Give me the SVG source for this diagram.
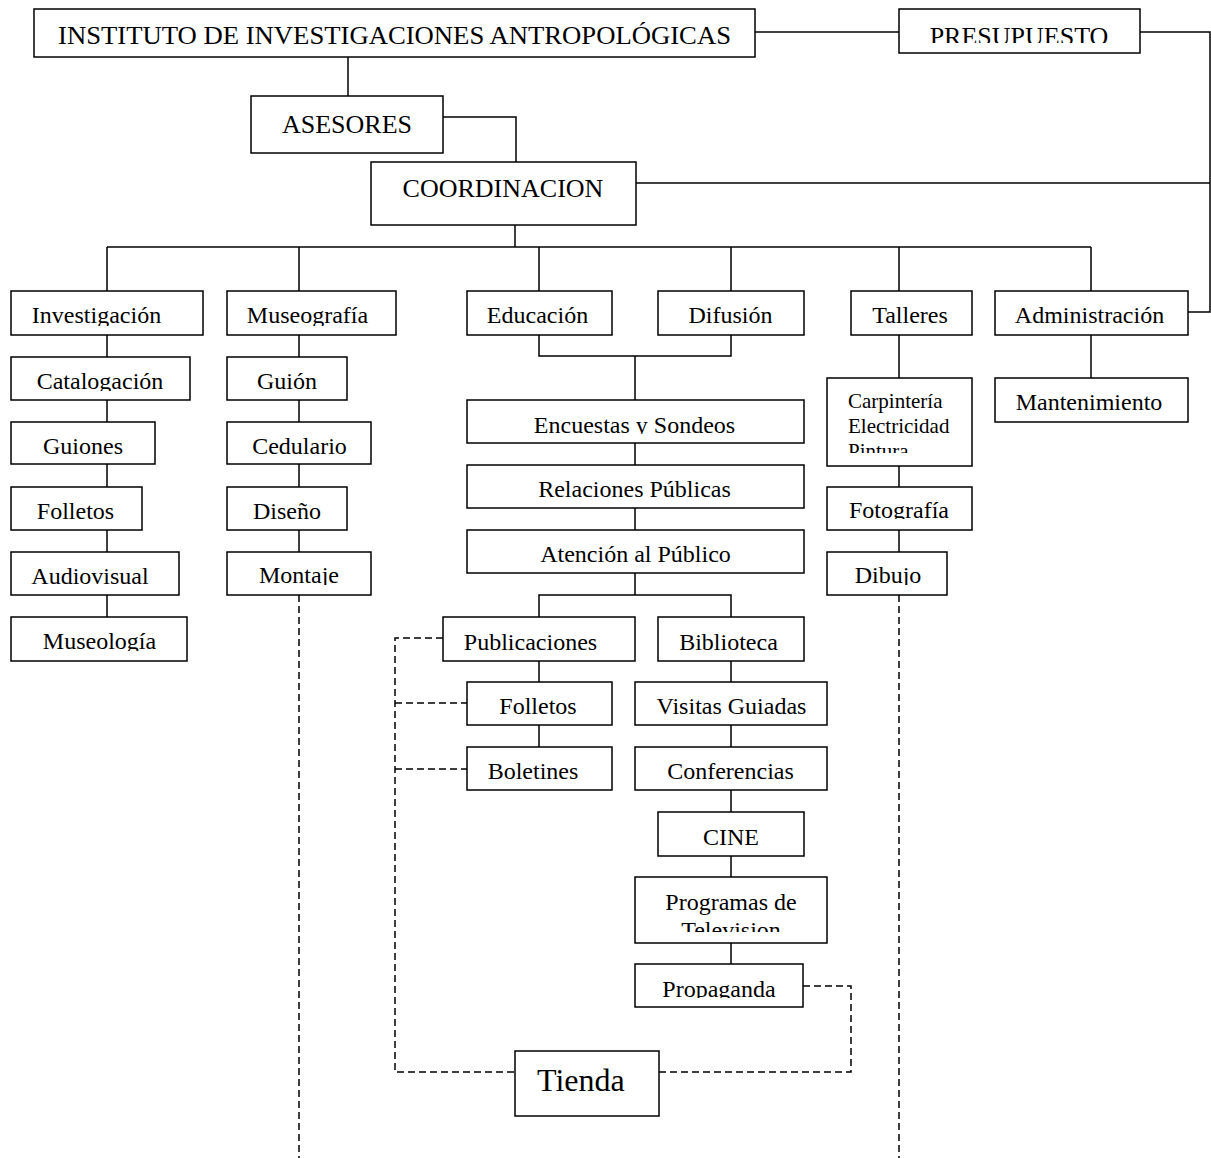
<svg xmlns="http://www.w3.org/2000/svg" width="1211" height="1158" viewBox="0 0 1211 1158">
  <style>
    .box { fill: #fff; stroke: #000; stroke-width: 1.5; }
    .lbl { font-family: "Liberation Serif", "Times New Roman", serif; font-size: 24px; fill: #000; text-anchor: middle; }
    .big { font-size: 26px; }
    .small { font-size: 21px; text-anchor: start; }
    .shop { font-size: 32px; text-anchor: start; }
    .wire { fill: none; stroke: #000; stroke-width: 1.5; }
    .dash { fill: none; stroke: #000; stroke-width: 1.5; stroke-dasharray: 7 4; }
  </style>
  <rect width="1211" height="1158" fill="#fff"/>

  <!-- connectors -->
  <g id="connectors">
    <path class="wire" d="M348 57V96"/>
    <path class="wire" d="M443 117H516V162"/>
    <path class="wire" d="M755 32H899"/>
    <path class="wire" d="M1140 32H1210V312H1188"/>
    <path class="wire" d="M636 183H1210"/>
    <path class="wire" d="M515 225V247"/>
    <path class="wire" d="M107 247H1091"/>
    <path class="wire" d="M107 247V291M299 247V291M539 247V291M731 247V291M899 247V291M1091 247V291"/>
    <!-- Investigación column -->
    <path class="wire" d="M107 335V357M107 400V422M107 464V487M107 530V552M107 595V617"/>
    <!-- Museografía column -->
    <path class="wire" d="M299 335V357M299 400V422M299 464V487M299 530V552"/>
    <!-- Educación / Difusión -->
    <path class="wire" d="M539 335V356H731V335M635 356V400"/>
    <path class="wire" d="M635 443V465M635 508V530M635 573V595"/>
    <path class="wire" d="M539 617V595H731V617"/>
    <path class="wire" d="M539 661V682M539 725V747"/>
    <path class="wire" d="M731 661V682M731 725V747M731 790V812M731 856V877M731 943V964"/>
    <!-- Talleres / Administración -->
    <path class="wire" d="M899 335V378M899 466V487M899 530V552"/>
    <path class="wire" d="M1091 335V378"/>
    <!-- dashed links -->
    <path class="dash" d="M299 595V1158"/>
    <path class="dash" d="M899 595V1158"/>
    <path class="dash" d="M443 638H395V1072H515"/>
    <path class="dash" d="M395 703H467M395 769H467"/>
    <path class="dash" d="M803 986H851V1072H659"/>
  </g>

  <!-- top level -->
  <g id="n-instituto">
    <rect class="box" x="34" y="9" width="721" height="48"/>
    <svg x="34" y="9" width="721" height="48" viewBox="34 9 721 48">
      <text class="lbl big" x="394.5" y="44" textLength="673" lengthAdjust="spacingAndGlyphs">INSTITUTO DE INVESTIGACIONES ANTROPOLÓGICAS</text>
    </svg>
  </g>
  <g id="n-presupuesto">
    <rect class="box" x="899" y="9" width="241" height="44"/>
    <svg x="899" y="9" width="241" height="34" viewBox="899 9 241 34">
      <text class="lbl big" x="1019" y="45">PRESUPUESTO</text>
    </svg>
  </g>
  <g id="n-asesores">
    <rect class="box" x="251" y="96" width="192" height="57"/>
    <text class="lbl big" x="347" y="133">ASESORES</text>
  </g>
  <g id="n-coordinacion">
    <rect class="box" x="371" y="162" width="265" height="63"/>
    <text class="lbl big" x="503" y="197">COORDINACION</text>
  </g>

  <!-- Investigación column -->
  <g id="n-investigacion">
    <rect class="box" x="11" y="291" width="192" height="44"/>
    <svg x="11" y="291" width="192" height="35" viewBox="11 291 192 35"><text class="lbl" x="96.5" y="323">Investigación</text></svg>
  </g>
  <g id="n-catalogacion">
    <rect class="box" x="11" y="357" width="179" height="43"/>
    <svg x="11" y="357" width="179" height="34" viewBox="11 357 179 34"><text class="lbl" x="100" y="389">Catalogación</text></svg>
  </g>
  <g id="n-guiones">
    <rect class="box" x="11" y="422" width="144" height="42"/>
    <text class="lbl" x="83" y="454">Guiones</text>
  </g>
  <g id="n-folletos-inv">
    <rect class="box" x="11" y="487" width="131" height="43"/>
    <text class="lbl" x="75.5" y="519">Folletos</text>
  </g>
  <g id="n-audiovisual">
    <rect class="box" x="11" y="552" width="168" height="43"/>
    <text class="lbl" x="90" y="584">Audiovisual</text>
  </g>
  <g id="n-museologia">
    <rect class="box" x="11" y="617" width="176" height="44"/>
    <svg x="11" y="617" width="176" height="34" viewBox="11 617 176 34"><text class="lbl" x="99.5" y="649">Museología</text></svg>
  </g>

  <!-- Museografía column -->
  <g id="n-museografia">
    <rect class="box" x="227" y="291" width="169" height="44"/>
    <svg x="227" y="291" width="169" height="35" viewBox="227 291 169 35"><text class="lbl" x="307.5" y="323">Museografía</text></svg>
  </g>
  <g id="n-guion">
    <rect class="box" x="227" y="357" width="120" height="43"/>
    <text class="lbl" x="287" y="389">Guión</text>
  </g>
  <g id="n-cedulario">
    <rect class="box" x="227" y="422" width="144" height="42"/>
    <text class="lbl" x="299.5" y="454">Cedulario</text>
  </g>
  <g id="n-diseno">
    <rect class="box" x="227" y="487" width="120" height="43"/>
    <text class="lbl" x="287" y="519">Diseño</text>
  </g>
  <g id="n-montaje">
    <rect class="box" x="227" y="552" width="144" height="43"/>
    <svg x="227" y="552" width="144" height="33" viewBox="227 552 144 33"><text class="lbl" x="299" y="583">Montaje</text></svg>
  </g>

  <!-- Educación / Difusión -->
  <g id="n-educacion">
    <rect class="box" x="467" y="291" width="145" height="44"/>
    <text class="lbl" x="537.5" y="323">Educación</text>
  </g>
  <g id="n-difusion">
    <rect class="box" x="658" y="291" width="146" height="44"/>
    <text class="lbl" x="730.5" y="323">Difusión</text>
  </g>
  <g id="n-encuestas">
    <rect class="box" x="467" y="400" width="337" height="43"/>
    <svg x="467" y="400" width="337" height="34" viewBox="467 400 337 34"><text class="lbl" x="634.5" y="433">Encuestas y Sondeos</text></svg>
  </g>
  <g id="n-relaciones">
    <rect class="box" x="467" y="465" width="337" height="43"/>
    <text class="lbl" x="634.5" y="497">Relaciones Públicas</text>
  </g>
  <g id="n-atencion">
    <rect class="box" x="467" y="530" width="337" height="43"/>
    <text class="lbl" x="635.5" y="562">Atención al Público</text>
  </g>
  <g id="n-publicaciones">
    <rect class="box" x="443" y="617" width="192" height="44"/>
    <text class="lbl" x="530.5" y="650">Publicaciones</text>
  </g>
  <g id="n-biblioteca">
    <rect class="box" x="658" y="617" width="146" height="44"/>
    <text class="lbl" x="728.5" y="650">Biblioteca</text>
  </g>
  <g id="n-folletos-pub">
    <rect class="box" x="467" y="682" width="145" height="43"/>
    <text class="lbl" x="538" y="714">Folletos</text>
  </g>
  <g id="n-boletines">
    <rect class="box" x="467" y="747" width="145" height="43"/>
    <text class="lbl" x="533" y="779">Boletines</text>
  </g>
  <g id="n-visitas">
    <rect class="box" x="635" y="682" width="192" height="43"/>
    <text class="lbl" x="731.5" y="714">Visitas Guiadas</text>
  </g>
  <g id="n-conferencias">
    <rect class="box" x="635" y="747" width="192" height="43"/>
    <text class="lbl" x="730.5" y="779">Conferencias</text>
  </g>
  <g id="n-cine">
    <rect class="box" x="658" y="812" width="146" height="44"/>
    <text class="lbl" x="731" y="845">CINE</text>
  </g>
  <g id="n-television">
    <rect class="box" x="635" y="877" width="192" height="66"/>
    <svg x="635" y="877" width="192" height="55" viewBox="635 877 192 55">
      <text class="lbl" x="731" y="910">Programas de</text>
      <text class="lbl" x="731" y="937.5">Television</text>
    </svg>
  </g>
  <g id="n-propaganda">
    <rect class="box" x="635" y="964" width="168" height="43"/>
    <svg x="635" y="964" width="168" height="34" viewBox="635 964 168 34"><text class="lbl" x="719" y="997">Propaganda</text></svg>
  </g>
  <g id="n-tienda">
    <rect class="box" x="515" y="1051" width="144" height="65"/>
    <text class="lbl shop" x="537" y="1091">Tienda</text>
  </g>

  <!-- Talleres / Administración -->
  <g id="n-talleres">
    <rect class="box" x="851" y="291" width="121" height="44"/>
    <text class="lbl" x="910" y="323">Talleres</text>
  </g>
  <g id="n-oficios">
    <rect class="box" x="827" y="378" width="145" height="88"/>
    <svg x="827" y="378" width="145" height="75" viewBox="827 378 145 75">
      <text class="lbl small" x="848" y="408">Carpintería</text>
      <text class="lbl small" x="848" y="433">Electricidad</text>
      <text class="lbl small" x="848" y="458">Pintura</text>
    </svg>
  </g>
  <g id="n-fotografia">
    <rect class="box" x="827" y="487" width="145" height="43"/>
    <svg x="827" y="487" width="145" height="32" viewBox="827 487 145 32"><text class="lbl" x="899" y="518">Fotografía</text></svg>
  </g>
  <g id="n-dibujo">
    <rect class="box" x="827" y="552" width="120" height="43"/>
    <svg x="827" y="552" width="120" height="33" viewBox="827 552 120 33"><text class="lbl" x="888" y="583">Dibujo</text></svg>
  </g>
  <g id="n-administracion">
    <rect class="box" x="995" y="291" width="193" height="44"/>
    <text class="lbl" x="1089.5" y="323">Administración</text>
  </g>
  <g id="n-mantenimiento">
    <rect class="box" x="995" y="378" width="193" height="44"/>
    <text class="lbl" x="1089" y="410">Mantenimiento</text>
  </g>
</svg>
